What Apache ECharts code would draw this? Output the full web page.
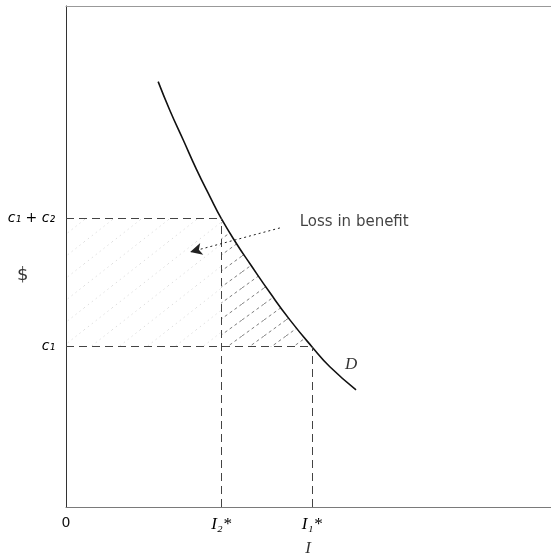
<!DOCTYPE html>
<html>
<head>
<meta charset="utf-8">
<script src="https://cdn.jsdelivr.net/npm/echarts@6/dist/echarts.min.js"></script>
<style>
  html, body { margin: 0; padding: 0; background: #fff; }
  #chart { width: 551px; height: 557px; }
</style>
</head>
<body>
<div id="chart"></div>
<script>
// Demand curve D (quantity, $)
const demandX = [19.0, 21.4, 24.2, 26.9, 29.7, 32.0, 35.2, 37.9, 42.1, 46.2, 50.7, 54.4, 59.8];
const demandY = [84.9, 79.2, 73.2, 67.4, 61.9, 57.6, 52.5, 48.6, 42.7, 37.3, 32.0, 28.0, 23.4];

// Cost levels on the $ axis: c1 and c1 + c2
const costLevels = [32.0, 57.6];
const costLabels = ['c₁', 'c₁ + c₂'];

// Quantities on the I axis: 0, I2*, I1*
const quantities = [0, 32.0, 50.7];
const quantityLabels = ['0', 'I₂*', 'I₁*'];

// Axis titles and where they sit (data units)
const axisTitles = ['$', 'I'];
const axisTitleAt = [[-8.9, 46.3], [49.9, -8.2]];

// Annotation pointer for the lost benefit, and text anchors
const lossArrow = [[44.1, 55.7], [25.6, 50.9]];
const lossText = 'Loss in benefit';
const lossTextAt = [48.2, 56.9];
const curveName = 'D';
const curveNameAt = [58.8, 28.5];

const c1 = costLevels[0], c12 = costLevels[1];
const i2 = quantities[1], i1 = quantities[2];

// Diagonal hatch pattern tile
function hatchTile(color, dash, w, h) {
  const cv = document.createElement('canvas');
  cv.width = w; cv.height = h;
  const ctx = cv.getContext('2d');
  ctx.strokeStyle = color;
  ctx.lineWidth = 1;
  ctx.setLineDash(dash);
  ctx.beginPath();
  ctx.moveTo(0, h);
  ctx.lineTo(w, 0);
  ctx.stroke();
  return cv;
}
const lossHatch = { image: hatchTile('rgba(70,70,70,0.7)', [3, 3], 22, 16), repeat: 'repeat' };
const faintHatch = { image: hatchTile('rgba(90,90,90,0.28)', [1, 4], 28, 22), repeat: 'repeat' };

// Polygon of the region between I2*, c1 and the demand curve
const lossPoly = [[i2, c1], [i1, c1]];
for (let k = demandX.length - 1; k >= 0; k--) {
  if (demandX[k] <= i1 && demandX[k] >= i2) lossPoly.push([demandX[k], demandY[k]]);
}
const rectPoly = [[0, c1], [i2, c1], [i2, c12], [0, c12]];

function polygonSeries(points, fill) {
  return {
    type: 'custom',
    silent: true,
    data: [0],
    renderItem: function (params, api) {
      return {
        type: 'polygon',
        shape: { points: points.map(p => api.coord(p)) },
        style: { fill: fill, stroke: null }
      };
    },
    z: 1
  };
}

const guideStyle = { color: '#444', width: 1, type: [8, 5] };
const serifItalic = { fontFamily: 'Liberation Serif', fontStyle: 'italic', fontSize: 17, color: '#000' };

const chart = echarts.init(document.getElementById('chart'));
chart.setOption({
  animation: false,
  backgroundColor: '#fff',
  grid: { left: 66, right: 0, top: 6, bottom: 50, outerBoundsMode: 'none', containLabel: false },
  xAxis: [
    {
      type: 'value', min: 0, max: 100,
      axisLine: { show: true, lineStyle: { color: '#7a7a7a', width: 1 } },
      axisTick: { show: false },
      splitLine: { show: false },
      axisLabel: {
        customValues: quantities,
        margin: 9,
        formatter: function (v) {
          const k = quantities.findIndex(q => Math.abs(q - v) < 1e-6);
          return k === 0 ? '{n|' + quantityLabels[k] + '}' : '{v|' + quantityLabels[k] + '}';
        },
        rich: {
          n: { fontFamily: 'DejaVu Sans', fontSize: 14, color: '#111' },
          v: serifItalic
        }
      }
    },
    {
      type: 'value', min: 0, max: 100, position: 'top',
      axisLine: { show: true, lineStyle: { color: '#999', width: 1 } },
      axisTick: { show: false }, axisLabel: { show: false }, splitLine: { show: false }
    }
  ],
  yAxis: {
    type: 'value', min: 0, max: 100,
    axisLine: { show: true, lineStyle: { color: '#333', width: 1 } },
    axisTick: { show: false },
    splitLine: { show: false },
    axisLabel: {
      customValues: costLevels,
      margin: 11,
      fontFamily: 'DejaVu Sans', fontStyle: 'italic', fontSize: 14, color: '#000',
      formatter: function (v) {
        const k = costLevels.findIndex(q => Math.abs(q - v) < 1e-6);
        return costLabels[k];
      }
    }
  },
  series: [
    polygonSeries(rectPoly, faintHatch),
    polygonSeries(lossPoly, lossHatch),
    {
      name: 'guides', type: 'line', data: [], silent: true,
      markLine: {
        silent: true, symbol: 'none', label: { show: false },
        lineStyle: guideStyle,
        data: [
          [{ coord: [0, c12] }, { coord: [i2, c12] }],
          [{ coord: [0, c1] }, { coord: [i1, c1] }],
          [{ coord: [i2, 0] }, { coord: [i2, c12] }],
          [{ coord: [i1, 0] }, { coord: [i1, c1] }]
        ]
      },
      z: 2
    },
    {
      name: 'pointer', type: 'line', data: [], silent: true,
      markLine: {
        silent: true, symbol: ['none', 'arrow'], symbolSize: [9, 12], label: { show: false },
        lineStyle: { color: '#222', width: 1, type: [2, 3] },
        data: [[{ coord: lossArrow[0] }, { coord: lossArrow[1] }]]
      },
      z: 3
    },
    {
      name: 'D', type: 'line', smooth: 0.5, showSymbol: false, silent: true,
      lineStyle: { color: '#111', width: 1.6 },
      data: demandX.map((x, k) => [x, demandY[k]]),
      z: 4
    },
    {
      type: 'scatter', symbolSize: 0, silent: true, clip: false,
      data: [
        { value: lossTextAt, label: { show: true, position: 'right', distance: 0, formatter: lossText,
          fontFamily: 'DejaVu Sans', fontSize: 15, color: '#111' } },
        { value: curveNameAt, label: Object.assign({ show: true, position: 'inside', formatter: curveName }, serifItalic) },
        { value: axisTitleAt[0], label: { show: true, position: 'inside', formatter: axisTitles[0],
          fontFamily: 'DejaVu Sans', fontSize: 18, color: '#000' } },
        { value: axisTitleAt[1], label: Object.assign({ show: true, position: 'inside', formatter: axisTitles[1] }, serifItalic) }
      ],
      z: 5
    }
  ]
});
</script>
</body>
</html>
